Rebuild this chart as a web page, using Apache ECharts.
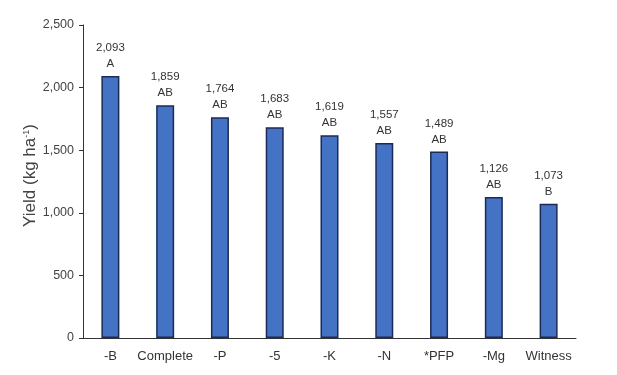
<!DOCTYPE html>
<html><head><meta charset="utf-8">
<script src="https://cdn.jsdelivr.net/npm/echarts@6/dist/echarts.min.js"></script>
<style>html,body{margin:0;padding:0;background:#fff}#c{width:617px;height:375px}</style>
</head><body><div id="c"></div>
<script>
const categories = ['-B','Complete','-P','-5','-K','-N','*PFP','-Mg','Witness'];
const yieldValues = [2093,1859,1764,1683,1619,1557,1489,1126,1073];
const letters = ['A','AB','AB','AB','AB','AB','AB','AB','B'];
const FONT = "'Liberation Sans',Arial,sans-serif";
const chart = echarts.init(document.getElementById('c'), null, {renderer:'canvas'});
const fmt = v => v.toLocaleString('en-US');
chart.setOption({
  animation:false,
  backgroundColor:'#fff',
  grid:{left:83,right:41,top:25,bottom:37},
  xAxis:{type:'category',data:categories,
    axisLine:{lineStyle:{color:'#333',width:1}},
    axisTick:{show:false},
    axisLabel:{interval:0,color:'#333',fontFamily:FONT,fontSize:13,margin:12}},
  yAxis:{type:'value',min:0,max:2500,interval:500,
    name:'{n|Yield (kg ha}{s|-1}{n|)}',nameLocation:'middle',nameGap:44,nameRotate:90,nameMoveOverlap:false,
    nameTextStyle:{padding:[0,0,0,12],rich:{n:{fontFamily:FONT,fontSize:17,color:'#444'},s:{fontFamily:FONT,fontSize:9,color:'#444',verticalAlign:'top',padding:[0,0,8,0]}}},
    axisLine:{show:true,lineStyle:{color:'#333',width:1}},
    axisTick:{show:true,length:4,lineStyle:{color:'#333'}},
    splitLine:{show:false},
    axisLabel:{color:'#444',fontFamily:FONT,fontSize:12.5,margin:9,formatter:v=>fmt(v)}},
  series:[{type:'bar',data:yieldValues,barWidth:18,
    itemStyle:{color:'#4472C4',borderColor:'#1c2a55',borderWidth:1.5},
    label:{show:true,position:'top',distance:4,color:'#333',fontFamily:FONT,fontSize:11.5,lineHeight:16,
      formatter:p=>fmt(p.value)+'\n'+letters[p.dataIndex]}}]
});
</script></body></html>
